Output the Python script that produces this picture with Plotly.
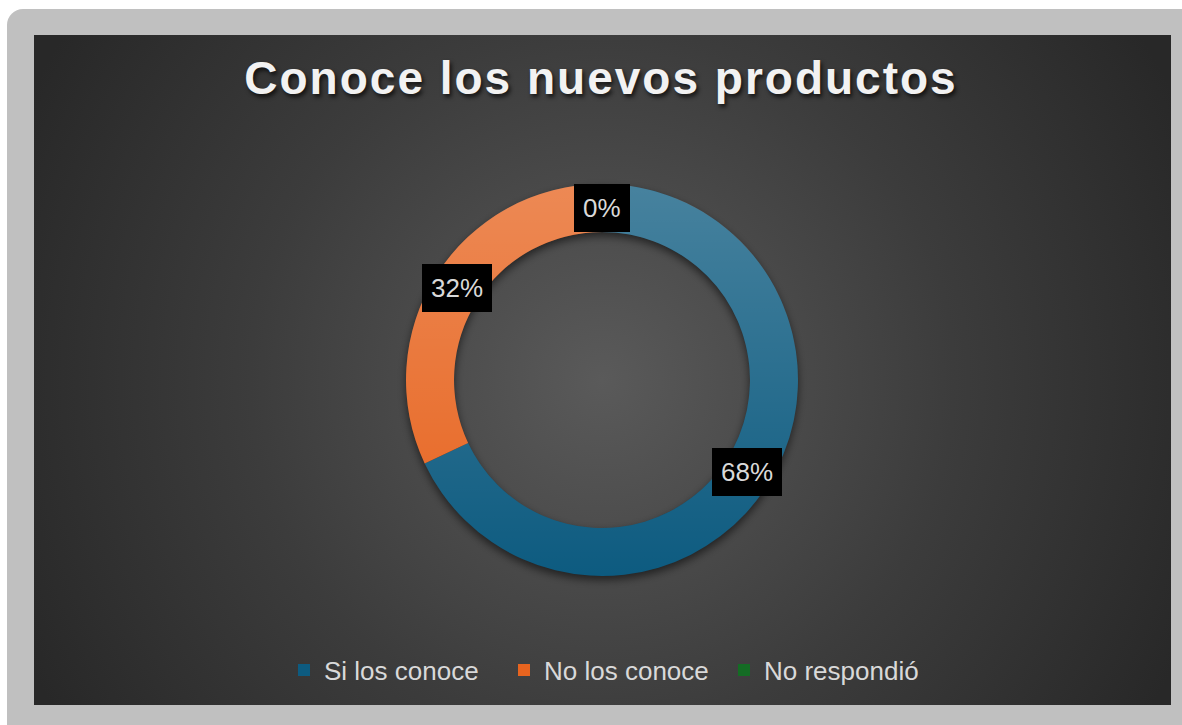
import math
import urllib.parse
import plotly.graph_objects as go

# ---- data ----
categories = ["Si los conoce", "No los conoce", "No respondió"]
values = [68, 32, 0]
slice_colors = ["#0d5b80", "#e7641f", "#146c24"]
title_text = "Conoce los nuevos productos"

W, H = 1182, 725
CX, CY, R = 602, 380, 196
HOLE = 0.755
RI = R * HOLE


def annulus_path(cx, cy, ro, ri):
    return (f"M{cx - ro},{cy} a{ro},{ro} 0 1,0 {2 * ro},0 a{ro},{ro} 0 1,0 {-2 * ro},0 Z "
            f"M{cx - ri},{cy} a{ri},{ri} 0 1,0 {2 * ri},0 a{ri},{ri} 0 1,0 {-2 * ri},0 Z")


ring = annulus_path(CX, CY, R, RI)

bg_svg = (
    "<svg xmlns='http://www.w3.org/2000/svg' width='1182' height='725'>"
    "<defs><radialGradient id='g' cx='602' cy='380' r='640' gradientUnits='userSpaceOnUse'>"
    "<stop offset='0' stop-color='#5a5a5a'/><stop offset='0.55' stop-color='#3c3c3c'/>"
    "<stop offset='1' stop-color='#282828'/></radialGradient>"
    "<filter id='b' x='-20%' y='-20%' width='140%' height='140%'><feGaussianBlur stdDeviation='4'/></filter></defs>"
    "<rect x='0' y='0' width='1182' height='725' fill='#ffffff'/>"
    "<rect x='7' y='9' width='1200' height='740' rx='16' ry='16' fill='#c0c0c0'/>"
    "<rect x='34' y='35' width='1137' height='670' fill='url(#g)'/>"
    f"<g transform='translate(0,4)' filter='url(#b)'><path d='{ring}' fill='#000' fill-opacity='0.55' fill-rule='evenodd'/></g>"
    "</svg>"
)
bg_uri = "data:image/svg+xml;charset=utf-8," + urllib.parse.quote(bg_svg)

shade_svg = (
    "<svg xmlns='http://www.w3.org/2000/svg' width='1182' height='725'>"
    f"<defs><linearGradient id='s' x1='0' y1='{CY - R}' x2='0' y2='{CY + R}' gradientUnits='userSpaceOnUse'>"
    "<stop offset='0' stop-color='#fff' stop-opacity='0.24'/>"
    "<stop offset='1' stop-color='#fff' stop-opacity='0'/></linearGradient></defs>"
    f"<path d='{ring}' fill='url(#s)' fill-rule='evenodd'/>"
    "</svg>"
)
shade_uri = "data:image/svg+xml;charset=utf-8," + urllib.parse.quote(shade_svg)

fig = go.Figure()
fig.add_trace(go.Pie(
    labels=categories,
    values=values,
    hole=HOLE,
    sort=False,
    direction="clockwise",
    rotation=0,
    textinfo="none",
    marker=dict(colors=slice_colors, line=dict(width=0)),
    domain=dict(x=[(CX - R) / W, (CX + R) / W], y=[1 - (CY + R) / H, 1 - (CY - R) / H]),
    hoverinfo="label+percent",
))

# data labels at the middle of the ring, mid-angle of each slice
total = sum(values)
rmid = R * (1 + HOLE) / 2
annotations = []
cum = 0
for v in values:
    frac_mid = (cum + v / 2) / total
    cum += v
    ang = 2 * math.pi * frac_mid
    px = CX + rmid * math.sin(ang)
    py = CY - rmid * math.cos(ang)
    annotations.append(dict(
        x=px / W, y=1 - py / H, xref="paper", yref="paper",
        text=f"{round(100 * v / total)}%", showarrow=False,
        font=dict(family="Liberation Sans, Arial", size=26, color="#d9d9d9"),
        bgcolor="#000000", bordercolor="#000000", borderwidth=1, borderpad=8,
        xanchor="center", yanchor="middle",
    ))

full = dict(xref="paper", yref="paper", x=0, y=1, sizex=1, sizey=1,
            xanchor="left", yanchor="top", sizing="stretch")

fig.update_layout(
    width=W, height=H,
    margin=dict(l=0, r=0, t=0, b=0),
    paper_bgcolor="#ffffff",
    plot_bgcolor="rgba(0,0,0,0)",
    images=[dict(source=bg_uri, layer="below", **full),
            dict(source=shade_uri, layer="above", **full)],
    title=dict(
        text=f"<b><span style='letter-spacing:2px'>{title_text}</span></b>",
        x=601 / W, xanchor="center", y=1 - 78 / H, yanchor="middle",
        font=dict(family="Liberation Sans, Arial", size=46, color="#f2f2f2",
                  shadow="2px 3px 4px rgba(0,0,0,0.7)"),
    ),
    showlegend=True,
    legend=dict(
        orientation="h", x=284 / W, xanchor="left", y=1 - 670 / H, yanchor="middle",
        font=dict(family="Liberation Sans, Arial", size=26, color="#d9d9d9"),
        bgcolor="rgba(0,0,0,0)", traceorder="normal",
        entrywidth=175, entrywidthmode="pixels",
    ),
    annotations=annotations,
)

fig.write_html("out.html")
